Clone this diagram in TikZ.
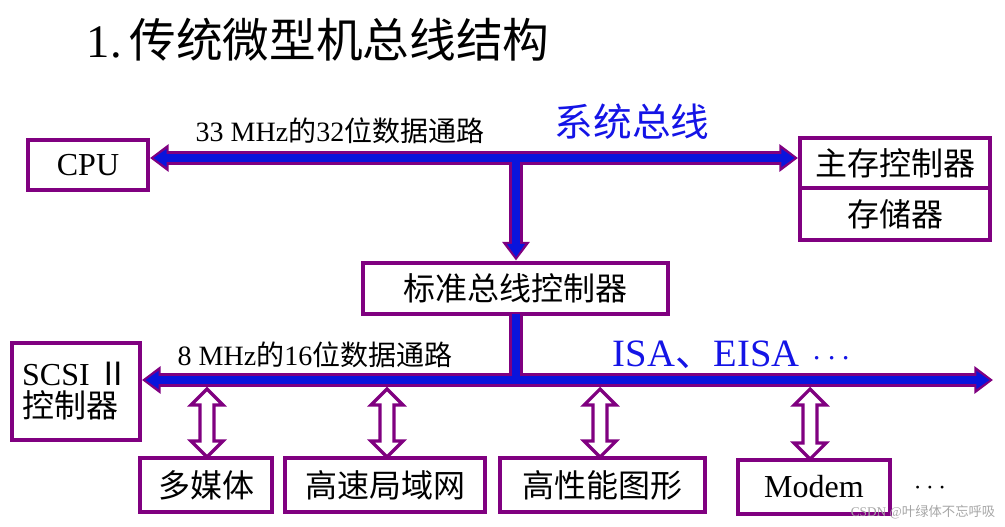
\documentclass[tikz,border=0pt]{standalone}
\usepackage{fontspec}
\setmainfont{Liberation Serif}
\newfontfamily\cjk{Noto Sans CJK SC}
\usetikzlibrary{arrows.meta,calc}
\definecolor{purp}{RGB}{128,0,128}
\definecolor{busblue}{RGB}{10,20,220}
\definecolor{tblue}{RGB}{20,20,230}
\begin{document}
\begin{tikzpicture}[x=0.75pt,y=-0.75pt,
  box/.style={draw=purp,line width=3pt,fill=white,inner sep=0pt,font=\fontsize{24}{26}\selectfont},
  busout/.style={draw=purp,line width=10pt},
  busin/.style={draw=busblue,line width=6pt},
  tipo/.style={arrows={#1},>={Triangle[length=14pt,width=20pt,fill=purp]}},
  tipi/.style={arrows={#1},>={Triangle[length=10pt,width=13pt,fill=busblue]}},
  hol/.style={draw=purp,line width=2.4pt,fill=white}]
\useasboundingbox (0,0) rectangle (1005,527);
% title
\node[font=\fontsize{35}{38}\selectfont,anchor=west] (title) at (82,40) {1.\,{\cjk 传统微型机总线结构}};
% boxes
\node[box,minimum width=120*0.75pt,minimum height=50*0.75pt] (cpu) at (88,165) {CPU};
\node[box,minimum width=190*0.75pt,minimum height=50*0.75pt] (mc) at (895,163) {\cjk 主存控制器};
\node[box,minimum width=190*0.75pt,minimum height=52*0.75pt] (mem) at (895,214) {\cjk 存储器};
\node[box,minimum width=305*0.75pt,minimum height=51*0.75pt] (ctrl) at (515.5,288) {\cjk 标准总线控制器};
\node[box,minimum width=128*0.75pt,minimum height=97*0.75pt,align=left] (scsi) at (76,391.5) {SCSI {\cjk Ⅱ}\\[-2pt]{\cjk 控制器}};
\node[box,minimum width=132*0.75pt,minimum height=54*0.75pt] (mm) at (206,485) {\cjk 多媒体};
\node[box,minimum width=200*0.75pt,minimum height=54*0.75pt] (lan) at (385,485) {\cjk 高速局域网};
\node[box,minimum width=205*0.75pt,minimum height=54*0.75pt] (gfx) at (602.5,485) {\cjk 高性能图形};
\node[box,minimum width=152*0.75pt,minimum height=54*0.75pt] (modem) at (814,487) {Modem};
% labels
\node[font=\fontsize{21}{23}\selectfont] (l1) at (340,131) {33 MHz{\cjk 的}32{\cjk 位数据通路}};
\node[font=\fontsize{29}{31}\selectfont,text=tblue] (sys) at (632,122) {\cjk 系统总线};
\node[font=\fontsize{21}{23}\selectfont] (l2) at (315,355) {8 MHz{\cjk 的}16{\cjk 位数据通路}};
\node[font=\fontsize{29}{31}\selectfont,text=tblue,anchor=west] (isa) at (608,355) {ISA{\cjk 、}EISA\,\,$\cdots$};
\node[font=\fontsize{22}{22}\selectfont] (dots) at (930,488) {$\cdots$};
\node[font=\fontsize{10}{12}\selectfont,text=gray!70,anchor=east] (wm) at (1000,512) {CSDN @{\cjk 叶绿体不忘呼吸}};
% bus coordinates
\coordinate (tl) at (cpu.east |- 0,158);
\coordinate (tr) at (mc.west |- 0,158);
\coordinate (j1) at (516,158);
\coordinate (cn) at (ctrl.north -| j1);
\coordinate (cs) at (ctrl.south -| j1);
\coordinate (j2) at (516,380);
\coordinate (bl) at (scsi.east |- 0,380);
\coordinate (br) at (993,380);
% outer purple
\draw[busout,tipo={->}] (j1) -- (cn);
\draw[busout] (cs) -- (j2);
\draw[busout,tipo={<->}] (tl) -- (tr);
\draw[busout,tipo={<->}] (bl) -- (br);
% inner blue
\draw[busin,tipi={->},shorten >=2.5pt] ($(j1)+(0,-4)$) -- (cn);
\draw[busin] ($(cs)+(0,-2)$) -- ($(j2)+(0,-4)$);
\draw[busin,tipi={<->},shorten >=2.5pt,shorten <=2.5pt] (tl) -- (tr);
\draw[busin,tipi={<->},shorten >=2.5pt,shorten <=2.5pt] (bl) -- (br);
% hollow double arrows (from bus to box top)
\foreach \n/\x/\L in {mm/207/68,lan/387/68,gfx/600/68,modem/810/70}{
  \coordinate (h\n) at (\x,389);
  \draw[hol] (h\n) -- ++(16,16) -- ++(-9,0) -- ++(0,\L-32) -- ++(9,0) -- ++(-16,16)
    -- ++(-16,-16) -- ++(9,0) -- ++(0,32-\L) -- ++(-9,0) -- cycle;
}
\end{tikzpicture}
\end{document}
